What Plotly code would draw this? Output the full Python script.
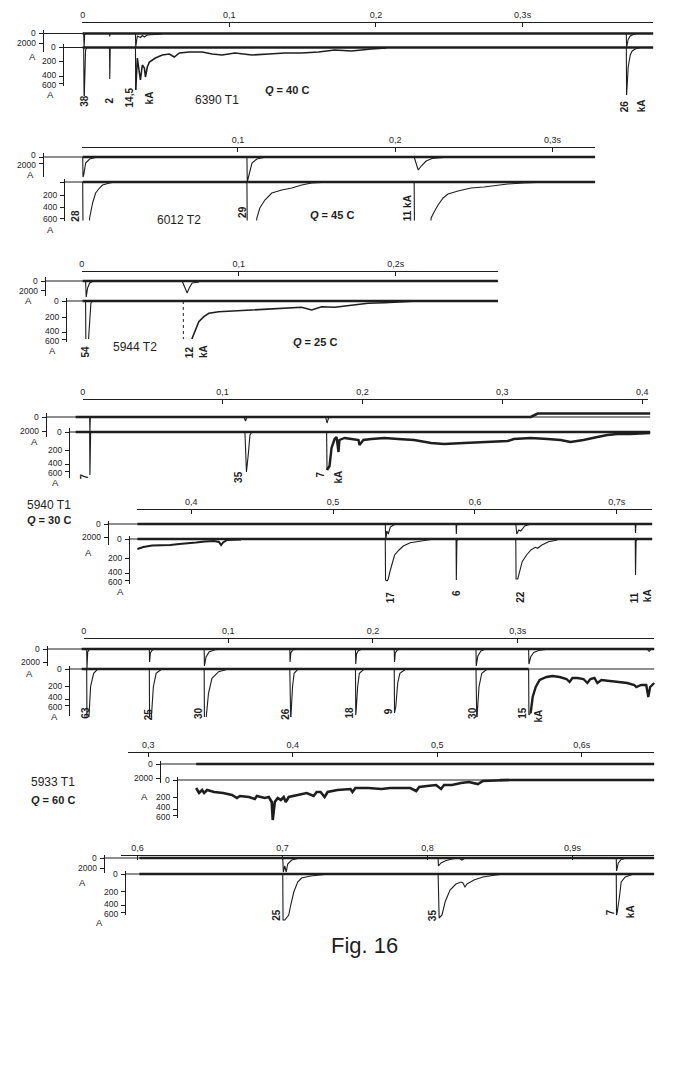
import plotly.graph_objects as go

W, H = 685, 1068
INK = "#1e1e1e"
FONT = "Liberation Sans, Arial, sans-serif"

# ---------- calibration of the two galvanometer traces (deflection of tick) ----------
UP_CAL_TXT = ["0", "2000"]
LO_CAL_TXT = ["0", "200", "400", "600"]
UP_CAL_D = [[0, 10], [0, 6.5], [0, 9], [0, 14], [0, 13], [0, 13], [0, 14], [0, 10]]
LO_CAL_D = [[0, 14, 28.5, 36], [0, 13, 25, 36.5], [0, 16, 31, 38], [0, 18, 32, 39],
            [0, 19, 34, 41], [0, 17, 30, 36.5], [0, 17, 29, 35], [0, 17.5, 31, 38]]

# ---------- time scales (s) ----------
P1_TICK_T = [0, 0.1, 0.2, 0.3]; P1_TICK_TXT = ["0", "0,1", "0,2", "0,3s"]
P2_TICK_T = [0, 0.1, 0.2, 0.3]; P2_TICK_TXT = ["0", "0,1", "0,2", "0,3s"]
P3_TICK_T = [0, 0.1, 0.2]; P3_TICK_TXT = ["0", "0,1", "0,2s"]
P4_TICK_T = [0, 0.1, 0.2, 0.3, 0.4]; P4_TICK_TXT = ["0", "0,1", "0,2", "0,3", "0,4"]
P5_TICK_T = [0.4, 0.5, 0.6, 0.7]; P5_TICK_TXT = ["0,4", "0,5", "0,6", "0,7s"]
P6_TICK_T = [0, 0.1, 0.2, 0.3]; P6_TICK_TXT = ["0", "0,1", "0,2", "0,3s"]
P7_TICK_T = [0.3, 0.4, 0.5, 0.6]; P7_TICK_TXT = ["0,3", "0,4", "0,5", "0,6s"]
P8_TICK_T = [0.6, 0.7, 0.8, 0.9]; P8_TICK_TXT = ["0,6", "0,7", "0,8", "0,9s"]

# ---------- 6390 T1 ----------
P1_RUN_T = [0.0, 0.389]
P1_UP_T = [0.0007, 0.0010, 0.0014, None, 0.0183, 0.0185, 0.0187, None,
           0.0360, 0.0362, 0.0373, 0.0394, 0.0407, 0.0421, 0.0441, 0.0475, 0.0543, None,
           0.3707, 0.3709, 0.3720, 0.3734, 0.3754, 0.3775]
P1_UP_D = [0, 14, 0, None, 0, 3, 0, None,
           0, 13.5, 2.5, 4, 2, 3.5, 1.5, 1, 0.5, None,
           0, 14, 6, 2.5, 1, 0.3]
P1_LO_T = [0.0007, 0.0010, 0.0020, 0.0027, None, 0.0183, 0.0185, 0.0188, None,
           0.0360, 0.0362, None, 0.3707, 0.3709, 0.3720, 0.3734, 0.3747, 0.3768, 0.3802]
P1_LO_D = [0, 55, 2.5, 0, None, 0, 31.5, 0, None,
           0, 42.5, None, 0, 47.5, 19.5, 7.5, 3.5, 1.5, 0]
P1_TAIL_T = [0.0362, 0.0373, 0.0387, 0.0394, 0.0407, 0.0421, 0.0428, 0.0441, 0.0455, 0.0496,
             0.0543, 0.0591, 0.0625, 0.0659, 0.0726, 0.0815, 0.0883, 0.0951, 0.1039, 0.1154,
             0.1270, 0.1378, 0.1494, 0.1609, 0.1718, 0.1833, 0.1969, 0.2071]
P1_TAIL_D = [42.5, 10.5, 25.5, 32.5, 17.5, 20.5, 29.5, 19.5, 14.5, 10.5,
             7.5, 6.5, 9.5, 5.5, 4.5, 4.5, 6.5, 7.5, 5.5, 7.5,
             6.5, 5.5, 5.5, 4.5, 2.5, 3.5, 1.5, 0.5]
P1_PEAK_T = [0.0014, 0.0183, 0.0326, 0.0455, 0.3693, 0.3809]
P1_PEAK_TXT = ["38", "2", "14,5", "kA", "26", "kA"]

# ---------- 6012 T2 ----------
P2_RUN_T = [0.0013, 0.327]
P2_UP_T = [0.0013, 0.0015, 0.0019, 0.0032, 0.0057, 0.0095, None,
           0.1057, 0.1059, 0.1070, 0.1089, 0.1120, 0.1165, None,
           0.2120, 0.2136, 0.2146, 0.2165, 0.2196, 0.2234, 0.2310]
P2_UP_D = [0, 20, 18, 6, 2, 0.5, None,
           0, 25, 18, 6, 2, 0.5, None,
           0, 9, 13, 9, 4, 1.5, 0.5]
P2_LO_T = [0.0013, 0.0015, 0.0051, 0.0057, 0.0076, 0.0095, 0.0120, 0.0139, 0.0184, 0.0222, None,
           0.1057, 0.1059, 0.1114, 0.1120, 0.1139, 0.1171, 0.1215, 0.1278, 0.1342, 0.1405, 0.1468, 0.1532, None,
           0.2120, 0.2122, 0.2222, 0.2228, 0.2247, 0.2272, 0.2304, 0.2335, 0.2399, 0.2481, 0.2563, 0.2652,
           0.2715, 0.2816, 0.2905, 0.2987]
P2_LO_D = [0, 50, 50, 36, 21, 11, 6, 3, 1, 0, None,
           0, 50, 50, 36, 26, 18, 11, 8, 6, 3, 1, 0.5, None,
           0, 50, 50, 36, 30, 23, 16, 12, 9, 6, 5, 3,
           2, 1, 0.5, 0]
P2_PEAK_T = [-0.0038, 0.1025, 0.2076]
P2_PEAK_TXT = ["28", "29", "11 kA"]

# ---------- 5944 T2 ----------
P3_RUN_T = [0.0006, 0.2651]
P3_UP_T = [0.0025, 0.0029, 0.0038, 0.0051, 0.0070, None, 0.0640, 0.0659, 0.0672, 0.0685, 0.0704, 0.0748]
P3_UP_D = [0, 16, 7, 2, 0.5, None, 0, 8, 12, 7, 2, 1]
P3_LO_T = [0.0025, 0.0027, 0.0041, 0.0044, 0.0053, 0.0059, 0.0070]
P3_LO_D = [0, 45, 45, 37, 16, 2, 0]
P3_FAINT_T = [0.0647, 0.0648]
P3_FAINT_D = [0, 45]
P3_TAIL_T = [0.0698, 0.0704, 0.0725, 0.0746, 0.0778, 0.0810, 0.0873, 0.0978, 0.1084, 0.1190,
             0.1295, 0.1401, 0.1465, 0.1528, 0.1613, 0.1719, 0.1824, 0.1930, 0.2035, 0.2141, 0.2247]
P3_TAIL_D = [45, 37.3, 29, 20.7, 15.7, 12.3, 10.7, 9.7, 9, 8.3,
             7.3, 6.3, 9, 5.7, 6.3, 4, 2.3, 1.7, 0.7, 0, 0]
P3_PEAK_T = [0.0025, 0.0691, 0.0780]
P3_PEAK_TXT = ["54", "12", "kA"]

# ---------- 5940 T1 (0 - 0,4 s) ----------
P4_UP_RUN_T = [-0.0050, 0.3203, 0.3253, 0.4057]
P4_UP_RUN_D = [0, 0, -3.5, -3.5]
P4_RUN_T = [-0.0050, 0.4057]
P4_UP_T = [0.0050, 0.0052, 0.0055, None, 0.1153, 0.1164, 0.1174, None, 0.1737, 0.1747, 0.1758, 0.1772]
P4_UP_D = [0, 15, 0, None, 0, 4, 0, None, 0, 6, 1, 0]
P4_LO_T = [0.0050, 0.0052, 0.0057, 0.0064, None, 0.1160, 0.1171, 0.1185, 0.1196, 0.1210, None, 0.1744, 0.1747]
P4_LO_D = [0, 43, 1, 0, None, 0, 40, 21, 3, 0, None, 0, 38]
P4_TAIL_T = [0.1747, 0.1765, 0.1779, 0.1801, 0.1815, 0.1829, 0.1836, 0.1872, 0.1922, 0.1972,
             0.1979, 0.2007, 0.2064, 0.2157, 0.2256, 0.2370, 0.2491, 0.2584, 0.2726, 0.2847,
             0.2968, 0.3039, 0.3082, 0.3203, 0.3324, 0.3416, 0.3488, 0.3537, 0.3580, 0.3680,
             0.3751, 0.3822, 0.3915, 0.4057]
P4_TAIL_D = [38, 34, 16, 7, 5, 20, 8, 6, 7, 8,
             13, 8, 7, 6, 7, 8, 11, 12, 11, 10,
             9, 9, 7, 6, 7, 8, 10, 9, 8, 5,
             3, 2, 2, 1]
P4_PEAK_T = [0.0014, 0.1117, 0.1694, 0.1829]
P4_PEAK_TXT = ["7", "35", "7", "kA"]

# ---------- 5940 T1 (0,36 - 0,73 s) ----------
P5_RUN_T = [0.3621, 0.7249]
P5_UP_T = [0.5368, 0.5372, 0.5379, 0.5389, 0.5404, 0.5432, None, 0.5867, 0.5869, 0.5872, None,
           0.6288, 0.6295, 0.6309, 0.6323, 0.6351, 0.6393, None, 0.7130, 0.7132, 0.7135]
P5_UP_D = [0, 16, 7, 10, 3, 0.5, None, 0, 10, 0, None,
           0, 10, 6, 7, 2, 0, None, 0, 9, 0]
P5_LO_T = [0.5368, 0.5370, 0.5382, 0.5389, 0.5404, 0.5418, 0.5434, 0.5465, 0.5495, 0.5544, 0.5621, 0.5691, None,
           0.5867, 0.5869, 0.5873, 0.5881, None,
           0.6288, 0.6290, 0.6302, 0.6317, 0.6333, 0.6364, 0.6395, 0.6426, 0.6441, 0.6472, 0.6519, 0.6581, None,
           0.7130, 0.7132, 0.7136, 0.7144]
P5_LO_D = [0, 41, 42, 40, 31, 22.7, 16, 11, 7, 3.7, 1.7, 0.5, None,
           0, 41, 2, 0, None,
           0, 40, 40, 31, 22.7, 16, 11, 8.3, 9.3, 6, 2.7, 1, None,
           0, 36, 2, 0]
P5_TAIL_T = [0.3621, 0.3663, 0.3725, 0.3789, 0.3853, 0.3916, 0.3979, 0.4035, 0.4098, 0.4161,
             0.4196, 0.4211, 0.4225, 0.4253, 0.4351]
P5_TAIL_D = [10, 8, 6.5, 6.5, 6, 5, 4.5, 3.5, 2.5, 2, 3, 6, 3.5, 1, 0.5]
P5_PEAK_T = [0.5404, 0.5867, 0.6316, 0.7123, 0.7214]
P5_PEAK_TXT = ["17", "6", "22", "11", "kA"]

# ---------- 5933 T1 (0 - 0,39 s) ----------
P6_UP_RUN_T = [-0.0014, 0.3944]
P6_LO_RUN_T = [-0.0014, 0.3076]
P6_UP_T = [0.0021, 0.0023, 0.0028, 0.0041, None,
           0.0454, 0.0456, 0.0461, 0.0475, 0.0496, None,
           0.0833, 0.0835, 0.0846, 0.0867, 0.0902, 0.0943, None,
           0.1425, 0.1427, 0.1432, 0.1445, 0.1473, None,
           0.1879, 0.1881, 0.1886, 0.1900, 0.1927, None,
           0.2147, 0.2149, 0.2154, 0.2168, 0.2195, None,
           0.2712, 0.2714, 0.2725, 0.2746, 0.2780, None,
           0.3076, 0.3078, 0.3090, 0.3111, 0.3145, 0.3194, None,
           0.3895, 0.3909, 0.3923]
P6_UP_D = [0, 20, 3, 0, None,
           0, 13, 4, 1, 0, None,
           0, 17, 8, 3, 1, 0, None,
           0, 13, 4, 1, 0, None,
           0, 15, 5, 1.5, 0, None,
           0, 13, 4, 1, 0, None,
           0, 17, 7, 2, 0, None,
           0, 15, 8, 3.5, 1.5, 0.5, None,
           0, 2.5, 0]
P6_LO_T = [0.0021, 0.0023, 0.0034, 0.0038, 0.0048, 0.0069, 0.0096, None,
           0.0454, 0.0456, 0.0465, 0.0471, 0.0482, 0.0501, 0.0538, None,
           0.0833, 0.0835, 0.0843, 0.0848, 0.0863, 0.0887, 0.0933, 0.0994, None,
           0.1425, 0.1427, 0.1432, 0.1434, 0.1444, 0.1455, 0.1480, None,
           0.1879, 0.1881, 0.1884, 0.1894, 0.1906, 0.1937, None,
           0.2147, 0.2149, 0.2158, 0.2171, 0.2186, 0.2225, None,
           0.2712, 0.2714, 0.2718, 0.2721, 0.2733, 0.2752, 0.2788, None,
           0.3076, 0.3078, 0.3090]
P6_LO_D = [0, 55, 55, 46, 17.7, 4.3, 0.3, None,
           0, 55, 55, 44.3, 17.7, 4.3, 0.3, None,
           0, 55, 55, 46, 24.3, 9.3, 2.7, 0.3, None,
           0, 55, 55, 44.3, 17.7, 4.3, 0.3, None,
           0, 46, 41, 17.7, 4.3, 0.3, None,
           0, 44, 37.3, 14, 4.3, 0.3, None,
           0, 55, 55, 44.3, 17.7, 4.3, 0.3, None,
           0, 46, 44]
P6_TAIL_T = [0.3090, 0.3104, 0.3125, 0.3152, 0.3200, 0.3242, 0.3290, 0.3338, 0.3359, 0.3379,
             0.3414, 0.3455, 0.3482, 0.3503, 0.3531, 0.3551, 0.3579, 0.3641, 0.3703, 0.3758,
             0.3806, 0.3820, 0.3854, 0.3889, 0.3903, 0.3916, 0.3944]
P6_TAIL_D = [44, 28, 18, 11, 8, 7, 8, 10, 13, 9,
             9, 10, 14, 10, 9, 14, 11, 12, 13, 14,
             16, 18, 16, 16, 28, 18, 14]
P6_PEAK_T = [0.0007, 0.0447, 0.0791, 0.1390, 0.1831, 0.2106, 0.2684, 0.3028, 0.3138]
P6_PEAK_TXT = ["63", "25", "30", "26", "18", "9", "30", "15", "kA"]

# ---------- 5933 T1 (0,33 - 0,65 s) ----------
P7_UP_RUN_T = [0.3331, 0.6501]
P7_LO_RUN_T = [0.5433, 0.6501]
P7_TAIL_T = [0.3331, 0.3351, 0.3372, 0.3386, 0.3407, 0.3455, 0.3517, 0.3579, 0.3613, 0.3634,
             0.3696, 0.3737, 0.3751, 0.3806, 0.3834, 0.3854, 0.3861, 0.3875, 0.3896, 0.3917,
             0.3937, 0.3951, 0.3972, 0.4034, 0.4096, 0.4144, 0.4165, 0.4192, 0.4220, 0.4241,
             0.4309, 0.4399, 0.4413, 0.4433, 0.4523, 0.4613, 0.4675, 0.4737, 0.4813, 0.4854,
             0.4875, 0.4930, 0.4992, 0.5026, 0.5047, 0.5102, 0.5164, 0.5219, 0.5281, 0.5316,
             0.5371, 0.5433, 0.5495]
P7_TAIL_D = [8, 13, 10, 13, 10, 12, 13, 15, 18, 16,
             17, 19, 16, 18, 17, 22, 40, 22, 18, 20,
             17, 22, 17, 15, 13, 16, 12, 12, 17, 12,
             10, 9, 12, 8, 8, 9, 8, 8, 8, 11,
             7, 6, 5, 9, 5, 5, 3, 2, 4, 1,
             0.5, 0, 0]

# ---------- 5933 T1 (0,59 - 0,96 s) ----------
P8_RUN_T = [0.6014, 0.9562]
P8_UP_T = [0.7002, 0.7006, 0.7016, 0.7026, 0.7036, 0.7064, 0.7119, None,
           0.8073, 0.8075, 0.8093, 0.8128, 0.8169, 0.8217, 0.8237, 0.8258, None,
           0.9301, 0.9303, 0.9315, 0.9335, 0.9370]
P8_UP_D = [0, 14, 8, 14, 6, 2, 0, None,
           0, 8, 5, 2.5, 1, 0, 2, 0, None,
           0, 13, 5, 1.5, 0]
P8_LO_T = [0.7002, 0.7004, 0.7016, 0.7029, 0.7043, 0.7057, 0.7078, 0.7105, 0.7132, 0.7194, 0.7290, None,
           0.8073, 0.8075, 0.8080, 0.8100, 0.8121, 0.8155, 0.8196, 0.8231, 0.8244, 0.8258, 0.8272,
           0.8320, 0.8382, 0.8471, 0.8539, None,
           0.9301, 0.9303, 0.9308, 0.9322, 0.9335, 0.9363, 0.9411]
P8_LO_D = [0, 46, 46, 43, 41, 31, 18, 8, 4, 2, 0.5, None,
           0, 44, 44, 41, 28, 16, 10, 8, 9, 13, 10,
           6, 3, 1, 0, None,
           0, 41, 38, 24, 8, 3, 0.5]
P8_PEAK_T = [0.6954, 0.8032, 0.9260, 0.9397]
P8_PEAK_TXT = ["25", "35", "7", "kA"]

# ---------- placement of the strips on the page (pixels) ----------
PANELS = [
    dict(x0=80, k=1473, end=0.389, axis_y=22, axis_px=(79, 653), ticks=(P1_TICK_T, P1_TICK_TXT),
         up=dict(base=33.5, sx=40, span=(30, 52), a=(30, 57)),
         lo=dict(base=47.5, sx=60, span=(44, 86), a=(48, 91)), clip=96, lo_zero=True,
         up_run=(P1_RUN_T, [0, 0]), lo_run=(P1_RUN_T, [0, 0]),
         up_pulse=(P1_UP_T, P1_UP_D), lo_pulse=(P1_LO_T, P1_LO_D), tail=(P1_TAIL_T, P1_TAIL_D), tail_w=1.6,
         peaks=(P1_PEAK_T, P1_PEAK_TXT, [101, 100, 97, 98, 106, 106]),
         texts=[("6390 T1", 215, 100, 12, False), ("<i>Q</i> = 40 C", 285, 90, 11, True)]),
    dict(x0=78, k=1580, end=0.327, axis_y=147, axis_px=(79, 595), ticks=(P2_TICK_T, P2_TICK_TXT),
         up=dict(base=157, sx=40, span=(153, 177), a=(28, 173)),
         lo=dict(base=182, sx=61, span=(179, 221), a=(48, 230)), clip=220.5, lo_zero=False,
         up_run=(P2_RUN_T, [0, 0]), lo_run=(P2_RUN_T, [0, 0]),
         up_pulse=(P2_UP_T, P2_UP_D), lo_pulse=(P2_LO_T, P2_LO_D),
         peaks=(P2_PEAK_T, P2_PEAK_TXT, [216, 212, 208]),
         texts=[("6012 T2", 177, 220, 12, False), ("<i>Q</i> = 45 C", 330, 215, 11, True)]),
    dict(x0=79, k=1577, end=0.2651, axis_y=270.5, axis_px=(79, 497), ticks=(P3_TICK_T, P3_TICK_TXT),
         up=dict(base=281, sx=42, span=(277, 296), a=(26, 300)),
         lo=dict(base=301, sx=63, span=(298, 342), a=(50, 350)), clip=339, lo_zero=True,
         up_run=(P3_RUN_T, [0, 0]), lo_run=(P3_RUN_T, [0, 0]),
         up_pulse=(P3_UP_T, P3_UP_D), lo_pulse=(P3_LO_T, P3_LO_D), tail=(P3_TAIL_T, P3_TAIL_D), tail_w=1.6,
         faint=(P3_FAINT_T, P3_FAINT_D),
         peaks=(P3_PEAK_T, P3_PEAK_TXT, [352, 352, 352]),
         texts=[("5944 T2", 133, 347, 12, False), ("<i>Q</i> = 25 C", 313, 342, 11, True)]),
    dict(x0=80, k=1405, end=0.4057, axis_y=399, axis_px=(80, 648), ticks=(P4_TICK_T, P4_TICK_TXT),
         up=dict(base=417, sx=43, span=(413, 437), a=(32, 441)),
         lo=dict(base=432, sx=66, span=(428, 478), a=(53, 481)), clip=476, lo_zero=True,
         up_run=(P4_UP_RUN_T, P4_UP_RUN_D), lo_run=(P4_RUN_T, [0, 0]),
         up_pulse=(P4_UP_T, P4_UP_D), lo_pulse=(P4_LO_T, P4_LO_D), tail=(P4_TAIL_T, P4_TAIL_D), tail_w=2.4,
         peaks=(P4_PEAK_T, P4_PEAK_TXT, [477, 477, 475, 477]), texts=[]),
    dict(x0=-381, k=1425, end=0.7249, axis_y=509, axis_px=(135, 652), ticks=(P5_TICK_T, P5_TICK_TXT),
         up=dict(base=524, sx=105, span=(521, 545), a=(86, 552)),
         lo=dict(base=539, sx=127, span=(536, 584), a=(118, 588)), clip=581.5, lo_zero=True,
         up_run=(P5_RUN_T, [0, 0]), lo_run=(P5_RUN_T, [0, 0]),
         up_pulse=(P5_UP_T, P5_UP_D), lo_pulse=(P5_LO_T, P5_LO_D), tail=(P5_TAIL_T, P5_TAIL_D), tail_w=2.0,
         peaks=(P5_PEAK_T, P5_PEAK_TXT, [597, 593, 597, 598, 596]),
         texts=[("5940 T1", 46, 505, 12, False), ("<i>Q</i> = 30 C", 46, 520, 11, True)]),
    dict(x0=81, k=1453, end=0.3944, axis_y=638, axis_px=(81, 654), ticks=(P6_TICK_T, P6_TICK_TXT),
         up=dict(base=649, sx=44, span=(646, 666), a=(27, 673)),
         lo=dict(base=669, sx=66, span=(666, 716), a=(52, 715)), clip=717, lo_zero=True,
         up_run=(P6_UP_RUN_T, [0, 0]), lo_run=(P6_LO_RUN_T, [0, 0]),
         up_pulse=(P6_UP_T, P6_UP_D), lo_pulse=(P6_LO_T, P6_LO_D), tail=(P6_TAIL_T, P6_TAIL_D), tail_w=2.4,
         peaks=(P6_PEAK_T, P6_PEAK_TXT, [713, 714, 713, 714, 713, 711, 713, 713, 716]), texts=[]),
    dict(x0=-289.3, k=1451, end=0.6501, axis_y=752, axis_px=(126, 654), ticks=(P7_TICK_T, P7_TICK_TXT),
         up=dict(base=764, sx=158, span=(761, 783), a=(142, 796)),
         lo=dict(base=780, sx=175, span=(777, 818), a=None), clip=822, lo_zero=True,
         up_run=(P7_UP_RUN_T, [0, 0]), lo_run=(P7_LO_RUN_T, [0, 0]),
         tail=(P7_TAIL_T, P7_TAIL_D), tail_w=2.6,
         peaks=([], [], []),
         texts=[("5933 T1", 50, 782, 12, False), ("<i>Q</i> = 60 C", 50, 800, 11, True)]),
    dict(x0=-739.2, k=1457, end=0.9562, axis_y=855, axis_px=(119, 654), ticks=(P8_TICK_T, P8_TICK_TXT),
         up=dict(base=858, sx=101, span=(855, 873), a=(80, 882)),
         lo=dict(base=874, sx=123, span=(871, 915), a=(97, 921)), clip=921, lo_zero=True,
         up_run=(P8_RUN_T, [0, 0]), lo_run=(P8_RUN_T, [0, 0]),
         up_pulse=(P8_UP_T, P8_UP_D), lo_pulse=(P8_LO_T, P8_LO_D),
         peaks=(P8_PEAK_T, P8_PEAK_TXT, [915, 915, 912, 912]), texts=[]),
]

LABEL_GAP = 10  # px kept between stacked scale labels


def aid(letter, n):
    return letter if n == 1 else f"{letter}{n}"


def akey(letter, n):
    return f"{letter}axis" if n == 1 else f"{letter}axis{n}"


def spread(vals, gap):
    # push crowded labels apart symmetrically, ticks stay where they are
    pos = list(vals)
    for _ in range(6):
        for j in range(1, len(pos)):
            d = pos[j] - pos[j - 1]
            if d < gap:
                s = (gap - d) / 2
                pos[j - 1] -= s
                pos[j] += s
    return pos


fig = go.Figure()
lay = {}
ann = []


def trace(t, d, xa, ya, width, dash=None):
    fig.add_trace(go.Scatter(x=t, y=d, mode="lines", xaxis=xa, yaxis=ya,
                             line=dict(color=INK, width=width, dash=dash),
                             hoverinfo="skip", showlegend=False))


def text(txt, px, py, size, bold=False, angle=0, xref="paper", x=None, yref="paper", y=None,
         xanchor="center"):
    ann.append(dict(text=f"<b>{txt}</b>" if bold else txt,
                    x=px / W if x is None else x, xref=xref,
                    y=1 - py / H if y is None else y, yref=yref,
                    xanchor=xanchor, yanchor="middle", showarrow=False, textangle=angle,
                    font=dict(family=FONT, size=size, color=INK)))


time_font = dict(family=FONT, size=9, color=INK)

for i, p in enumerate(PANELS):
    n_xp, n_xt = 2 * i + 1, 2 * i + 2
    xp, xt = aid("x", n_xp), aid("x", n_xt)
    ids = {"up": (4 * i + 1, 4 * i + 3), "lo": (4 * i + 2, 4 * i + 4)}

    def t_at(px, p=p):
        return (px - p["x0"]) / p["k"]

    lay[akey("x", n_xp)] = dict(domain=[0, 1], range=[t_at(0), t_at(W)], visible=False,
                                anchor=aid("y", ids["up"][0]))
    a, b = p["axis_px"]
    lay[akey("x", n_xt)] = dict(domain=[a / W, b / W], range=[t_at(a), t_at(b)], anchor="free",
                                position=1 - p["axis_y"] / H, side="top",
                                showline=True, linecolor=INK, linewidth=1,
                                ticks="inside", ticklen=4, tickwidth=1, tickcolor=INK,
                                tickvals=p["ticks"][0], ticktext=p["ticks"][1], tickfont=time_font,
                                showgrid=False, zeroline=False)
    fig.add_trace(go.Scatter(x=[None], y=[None], xaxis=xt, yaxis=aid("y", ids["up"][0]),
                             showlegend=False, hoverinfo="skip"))

    for key in ("up", "lo"):
        g = p[key]
        n_tr, n_sc = ids[key]
        ytr, ysc = aid("y", n_tr), aid("y", n_sc)
        base, clip = g["base"], p["clip"]
        top = base - 14
        lay[akey("y", n_tr)] = dict(domain=[1 - clip / H, 1 - top / H], range=[clip - base, top - base],
                                    visible=False, anchor=xp)
        if key == "up":
            cal_d, cal_txt = UP_CAL_D[i], UP_CAL_TXT
        else:
            cal_d = LO_CAL_D[i]
            cal_txt = LO_CAL_TXT if p["lo_zero"] else [""] + LO_CAL_TXT[1:]
        s0, s1 = g["span"]
        lay[akey("y", n_sc)] = dict(domain=[1 - s1 / H, 1 - s0 / H], range=[s1 - base, s0 - base],
                                    anchor="free", position=g["sx"] / W, side="left",
                                    showline=True, linecolor=INK, linewidth=1,
                                    ticks="outside", ticklen=4, tickwidth=1, tickcolor=INK,
                                    tickvals=cal_d, showticklabels=False,
                                    showgrid=False, zeroline=False)
        fig.add_trace(go.Scatter(x=[None], y=[None], xaxis=xp, yaxis=ysc,
                                 showlegend=False, hoverinfo="skip"))
        # scale labels, set on the scale axis next to their ticks
        shown = [(d, s) for d, s in zip(cal_d, cal_txt) if s]
        pos = spread([d for d, _ in shown], LABEL_GAP)
        for (d, s), yv in zip(shown, pos):
            text(s, g["sx"] - 5, None, 8.5, xref="paper", yref=ysc, y=yv, xanchor="right")
        # thin zero reference from the scale to the end of the record
        trace([t_at(g["sx"]), p["end"]], [0, 0], xp, ytr, 1)
        # the beam trace itself
        rt, rd = p[key + "_run"]
        trace(rt, rd, xp, ytr, 2.7)
        if key + "_pulse" in p:
            pt, pd_ = p[key + "_pulse"]
            trace(pt, pd_, xp, ytr, 1.1)
        if g["a"]:
            ay = max(g["a"][1], base + pos[-1] + LABEL_GAP - 0.5)
            text("A", g["a"][0], ay, 9.5)

    ylo = aid("y", ids["lo"][0])
    if "tail" in p:
        trace(p["tail"][0], p["tail"][1], xp, ylo, p["tail_w"])
    if "faint" in p:
        trace(p["faint"][0], p["faint"][1], xp, ylo, 1, dash="dot")

    for t, lab, py in zip(*p["peaks"]):
        text(lab, None, py, 10, bold=True, angle=-90, xref=xp, x=t)
    for txt, px, py, size, bold in p["texts"]:
        text(txt, px, py, size, bold=bold)

text("Fig. 16", 363, 945, 22)

fig.update_layout(**lay)
fig.update_layout(width=W, height=H, margin=dict(l=0, r=0, t=0, b=0),
                  plot_bgcolor="rgba(0,0,0,0)", paper_bgcolor="white", showlegend=False,
                  annotations=ann)

fig.write_html("out.html", config={"displayModeBar": False},
               post_script="document.body.style.margin='0';")
